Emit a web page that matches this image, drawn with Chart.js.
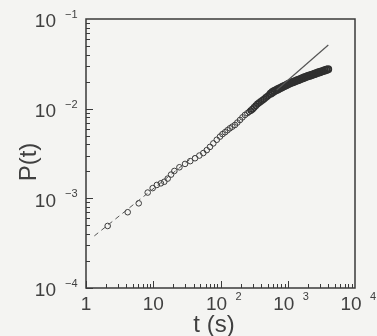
<!DOCTYPE html>
<html>
<head>
<meta charset="utf-8">
<script src="https://cdn.jsdelivr.net/npm/chart.js@4/dist/chart.umd.min.js"></script>
<style>
html,body{margin:0;padding:0;background:#f4f4f2;}
canvas{display:block;}
</style>
</head>
<body>
<canvas id="c" width="377" height="336"></canvas>
<script>
// Measured points: time t (s) and probability P(t)
const tData = [2.1, 4.17, 6.08, 8.27, 9.8, 11.3, 13.0, 14.6, 16.4, 18.4, 20.6, 24.5, 29.7, 35.5, 41.8, 48.5, 55.5, 62.5, 69.8, 78.2, 88, 98.3, 107, 117, 127, 138, 150, 164, 178, 195, 212, 231,
  251, 266, 282, 299, 316, 335, 355, 376, 398, 422, 447, 473, 501, 531, 562, 596, 631, 668, 708, 750, 794, 841, 891, 944, 1000, 1059, 1122, 1189, 1259, 1334, 1413, 1496, 1585, 1679, 1778, 1884, 1995, 2113, 2239, 2371, 2512, 2661, 2818, 2985, 3162, 3350, 3548, 3758, 3981];
const pData = [4.92e-4, 7.0e-4, 8.8e-4, 1.16e-3, 1.30e-3, 1.41e-3, 1.47e-3, 1.53e-3, 1.66e-3, 1.84e-3, 2.02e-3, 2.22e-3, 2.42e-3, 2.60e-3, 2.80e-3, 3.0e-3, 3.20e-3, 3.45e-3, 3.75e-3, 4.10e-3, 4.5e-3, 4.88e-3, 5.2e-3, 5.46e-3, 5.75e-3, 6.04e-3, 6.3e-3, 6.58e-3, 7.0e-3, 7.48e-3, 8.0e-3, 8.51e-3,
  8.91e-3, 9.20e-3, 9.51e-3, 9.87e-3, 1.030e-2, 1.076e-2, 1.125e-2, 1.167e-2, 1.205e-2, 1.245e-2, 1.285e-2, 1.331e-2, 1.377e-2, 1.426e-2, 1.476e-2, 1.528e-2, 1.570e-2, 1.603e-2, 1.640e-2, 1.675e-2, 1.711e-2, 1.750e-2, 1.786e-2, 1.824e-2, 1.866e-2, 1.905e-2, 1.941e-2, 1.972e-2, 2.009e-2, 2.042e-2, 2.080e-2, 2.113e-2, 2.153e-2, 2.188e-2, 2.228e-2, 2.265e-2, 2.301e-2, 2.333e-2, 2.366e-2, 2.404e-2, 2.443e-2, 2.477e-2, 2.518e-2, 2.553e-2, 2.594e-2, 2.630e-2, 2.667e-2, 2.710e-2, 2.748e-2];
// Dashed fit (short times)
const dashT = [1.33, 40];
const dashP = [3.81e-4, 2.94e-3];
// Solid fit (long times)
const fitT = [685, 4009];
const fitP = [0.01614, 0.0513];
// Axis tick exponents
const xExponents = [0, 1, 2, 3, 4];
const yExponents = [-1, -2, -3, -4];

const toXY = (xs, ys) => xs.map((x, i) => ({x: x, y: ys[i]}));
const INK = '#3a3a3a';
const FONT = '"Liberation Sans", Arial, sans-serif';

const decor = {
  id: 'decor',
  afterDraw(chart) {
    const ctx = chart.ctx, a = chart.chartArea;
    const sx = chart.scales.x, sy = chart.scales.y;
    ctx.save();
    ctx.strokeStyle = INK;
    ctx.lineWidth = 1.5;
    ctx.strokeRect(a.left, a.top, a.right - a.left, a.bottom - a.top);
    ctx.lineWidth = 1;
    // x ticks (inward)
    for (let d = 0; d < 4; d++) {
      for (let m = 1; m <= 9; m++) {
        const px = Math.round(sx.getPixelForValue(m * Math.pow(10, d))) + 0.5;
        const len = m === 1 ? 7 : 4;
        ctx.beginPath(); ctx.moveTo(px, a.bottom); ctx.lineTo(px, a.bottom - len); ctx.stroke();
      }
    }
    // y ticks (inward)
    for (let d = -4; d <= -2; d++) {
      for (let m = 1; m <= 9; m++) {
        const py = Math.round(sy.getPixelForValue(m * Math.pow(10, d))) + 0.5;
        const len = m === 1 ? 7 : 4;
        ctx.beginPath(); ctx.moveTo(a.left, py); ctx.lineTo(a.left + len, py); ctx.stroke();
      }
    }
    // y tick labels
    ctx.fillStyle = '#404040';
    ctx.textBaseline = 'middle';
    yExponents.forEach(e => {
      const py = sy.getPixelForValue(Math.pow(10, e));
      ctx.font = '19px ' + FONT;
      ctx.textAlign = 'right';
      ctx.fillText('10', 56, py + 3);
      ctx.font = '11px ' + FONT;
      ctx.textAlign = 'left';
      ctx.fillText('\u2212' + (-e), 65, py - 4);
    });
    // x tick labels
    xExponents.forEach(e => {
      const px = sx.getPixelForValue(Math.pow(10, e));
      ctx.font = '19px ' + FONT;
      ctx.textAlign = 'center';
      if (e === 0) {
        ctx.fillText('1', px, 305);
      } else if (e === 1) {
        ctx.fillText('10', px, 305);
      } else {
        ctx.fillText('10', px - 4, 305);
        ctx.font = '11px ' + FONT;
        ctx.textAlign = 'left';
        ctx.fillText(String(e), px + 15, 297);
      }
    });
    // axis titles
    ctx.font = '24px ' + FONT;
    ctx.textAlign = 'center';
    ctx.fillText('t (s)', 214, 325);
    ctx.save();
    ctx.translate(29, 162);
    ctx.rotate(-Math.PI / 2);
    ctx.fillText('P(t)', 0, 0);
    ctx.restore();
    ctx.restore();
  }
};

const bw = t => (t > 550 ? 1.8 : t > 280 ? 1.35 : 1);

new Chart(document.getElementById('c'), {
  type: 'line',
  data: {
    datasets: [
      {
        data: toXY(dashT, dashP),
        borderColor: '#555',
        borderWidth: 1,
        borderDash: [5, 4],
        pointRadius: 0,
        fill: false
      },
      {
        data: toXY(fitT, fitP),
        borderColor: '#555',
        borderWidth: 1.2,
        pointRadius: 0,
        fill: false
      },
      {
        data: toXY(tData, pData),
        showLine: false,
        pointStyle: 'circle',
        pointRadius: c => (c.raw && c.raw.x > 550 ? 3.2 : 2.8),
        pointBorderWidth: c => (c.raw ? bw(c.raw.x) : 1),
        pointBorderColor: c => (c.raw && c.raw.x > 280 ? '#303030' : '#3c3c3c'),
        pointBackgroundColor: 'rgba(0,0,0,0)'
      }
    ]
  },
  options: {
    responsive: false,
    animation: false,
    devicePixelRatio: 1,
    layout: {padding: {left: 86, top: 19, right: 22, bottom: 48}},
    plugins: {legend: {display: false}, tooltip: {enabled: false}},
    scales: {
      x: {type: 'logarithmic', min: 1, max: 10000, display: false},
      y: {type: 'logarithmic', min: 1e-4, max: 1e-1, display: false}
    }
  },
  plugins: [decor]
});
</script>
</body>
</html>
